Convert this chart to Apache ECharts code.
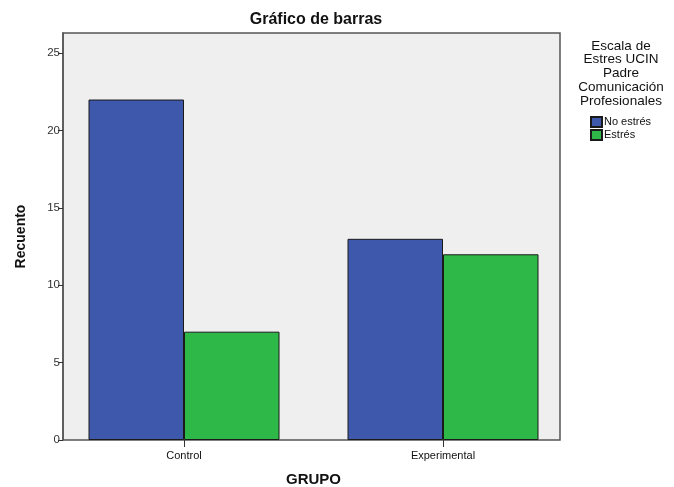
<!DOCTYPE html>
<html><head><meta charset="utf-8">
<script src="https://cdn.jsdelivr.net/npm/echarts@6/dist/echarts.min.js"></script>
<style>html,body{margin:0;padding:0;background:#fff}#c{width:674px;height:487px}</style>
</head><body><div id="c"></div>
<script>
const categories = ['Control', 'Experimental'];
const seriesNames = ['No estrés', 'Estrés'];
const noEstres = [22, 13];
const estres = [7, 12];
const yTicks = [0, 5, 10, 15, 20, 25];

const chart = echarts.init(document.getElementById('c'), null, {renderer: 'canvas'});
const font = 'Arial, "Liberation Sans", sans-serif';
const yMax = 26.3;
chart.setOption({
  backgroundColor: '#ffffff',
  animation: false,
  title: {
    text: 'Gráfico de barras', left: 311, top: 7, textAlign: 'center',
    textStyle: {fontFamily: font, fontSize: 16, fontWeight: 'bold', color: '#111'}
  },
  legend: {
    orient: 'vertical', left: 585, top: 111, itemWidth: 11, itemHeight: 10, itemGap: 1,
    data: seriesNames,
    textStyle: {fontFamily: font, fontSize: 11, color: '#111', padding: [0,0,0,-3]},
    icon: 'rect'
  },
  graphic: [{
    type: 'text', x: 621, y: 39,
    style: {
      text: 'Escala de\nEstres UCIN\nPadre\nComunicación\nProfesionales',
      textAlign: 'center', fill: '#111',
      font: '13.5px Arial, "Liberation Sans", sans-serif', lineHeight: 13.8
    }
  }],
  grid: [
    {left: 63, right: 114, top: 33, bottom: 47, show: true, backgroundColor: '#efefef', borderColor: '#555', borderWidth: 1.5, outerBoundsMode: 'none', containLabel: false},
    {left: 54.5, right: 101.5, top: 33, bottom: 47, outerBoundsMode: 'none', containLabel: false}
  ],
  xAxis: [
    {gridIndex: 0, type: 'value', show: false, min: 0, max: 1},
    {gridIndex: 1, type: 'category', data: categories,
     axisLine: {show: false},
     axisTick: {show: true, alignWithLabel: true, length: 7, lineStyle: {color: '#333'}},
     axisLabel: {fontFamily: font, fontSize: 11, color: '#111', margin: 10},
     name: 'GRUPO', nameLocation: 'middle', nameGap: 32,
     nameTextStyle: {fontFamily: font, fontSize: 15, fontWeight: 'bold', color: '#111'}
    }
  ],
  yAxis: [
    {gridIndex: 0, type: 'value', min: 0, max: yMax, interval: 5,
     axisLine: {show: true, lineStyle: {color: '#555', width: 1.5}},
     axisTick: {show: true, length: 5, lineStyle: {color: '#333'}, customValues: yTicks},
     axisLabel: {fontFamily: font, fontSize: 11.5, color: '#333', margin: 3, customValues: yTicks},
     splitLine: {show: false},
     name: 'Recuento', nameLocation: 'middle', nameGap: 35, nameRotate: 90,
     nameTextStyle: {fontFamily: font, fontSize: 14, fontWeight: 'bold', color: '#111'}
    },
    {gridIndex: 1, type: 'value', min: 0, max: yMax, show: false}
  ],
  series: [
    {name: seriesNames[0], type: 'bar', xAxisIndex: 1, yAxisIndex: 1, data: noEstres,
     barWidth: 95.5, barGap: '0%',
     itemStyle: {color: '#3e58ac', borderColor: '#1a1a1a', borderWidth: 1}},
    {name: seriesNames[1], type: 'bar', xAxisIndex: 1, yAxisIndex: 1, data: estres,
     barWidth: 95.5, barGap: '0%',
     itemStyle: {color: '#2eb847', borderColor: '#1a1a1a', borderWidth: 1}}
  ]
});
</script></body></html>
